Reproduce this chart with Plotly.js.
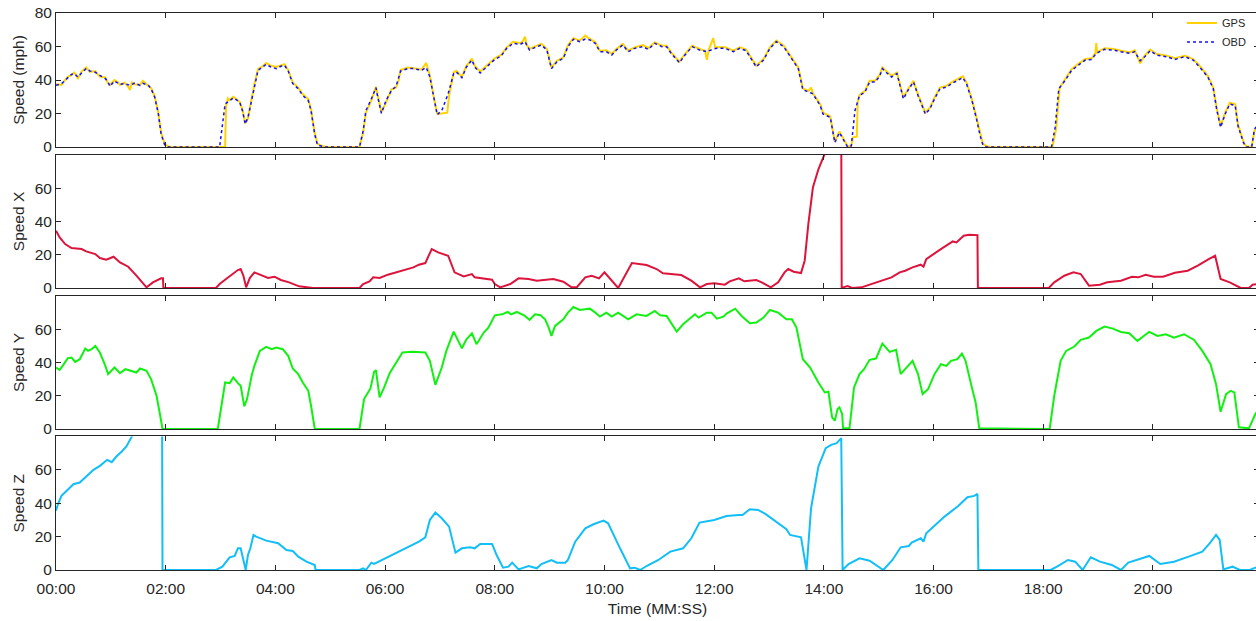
<!DOCTYPE html>
<html>
<head>
<meta charset="utf-8">
<script src="https://cdn.plot.ly/plotly-3.0.1.min.js"></script>
<style>
html,body{margin:0;padding:0;background:#fff;overflow:hidden;}
#chart{width:1262px;height:621px;}
</style>
</head>
<body>
<div id="chart"></div>
<script>
// time axis tick positions (seconds) and their labels
const tickSeconds = [0,120,240,360,480,600,720,840,960,1080,1200];
const tickLabels = ["00:00","02:00","04:00","06:00","08:00","10:00","12:00","14:00","16:00","18:00","20:00"];

// [time (s), speed] pairs
const gpsPts = [[0,37.5],[6,37.0],[12,41.5],[17,43.0],[20,44.5],[24,41.0],[28,45.0],[33,47.5],[37,45.0],[43,45.2],[48,42.0],[54,41.5],[57,38.0],[59,37.0],[64,40.0],[68,38.5],[70,37.0],[75,38.5],[79,36.0],[81,34.0],[83,38.5],[86,37.5],[92,37.0],[95,39.5],[101,36.5],[104,35.2],[108,30.2],[112,20.5],[115,8.5],[119,1.8],[123,0.3],[126,0],
[185,0],[186,24.5],[188,29.0],[190,28.0],[194,30.0],[197,28.8],[201,27.0],[204,22.2],[207,14.2],[210,17.0],[214,28.5],[217,37.5],[221,46.5],[226,48.2],[230,50.2],[235,48.5],[241,47.8],[246,49.0],[250,49.5],[254,46.0],[259,38.5],[265,35.5],[270,31.5],[276,28.5],[279,22.5],[283,8.5],[286,2.0],[290,0.8],[296,0],
[332,0],[336,8.5],[339,20.5],[345,27.8],[350,36.0],[352,30.5],[356,20.8],[361,26.5],[367,34.5],[372,35.5],[375,40.0],[377,46.0],[385,47.5],[391,47.0],[400,46.2],[405,50.2],[409,42.5],[413,30.5],[417,20.0],[420,19.8],[428,20.5],[430,30.5],[435,44.5],[438,45.5],[444,42.0],[449,48.5],[455,52.8],[458,48.5],[464,45.0],[471,48.5],[480,53.0],[487,55.0],[493,59.5],[500,62.8],[508,62.0],[511,63.5],[513,65.8],[515,61.0],[518,58.5],[526,60.5],[531,61.5],[537,58.5],[542,47.5],[548,51.5],[555,53.5],[560,60.8],[566,65.0],[573,63.5],[579,66.5],[584,64.5],[590,62.5],[595,57.5],[602,57.8],[608,55.5],[613,58.5],[620,61.5],[626,57.5],[633,59.5],[642,60.8],[648,59.0],[655,62.5],[663,60.5],[668,60.5],[673,56.5],[682,51.0],[688,55.5],[696,60.5],[704,58.5],[710,57.5],[712,52.0],[714,58.0],[719,65.0],[721,59.5],[732,59.5],[741,57.5],[748,59.5],[755,58.2],[766,48.5],[774,52.5],[781,59.5],[788,63.5],[796,60.5],[803,54.5],[812,47.5],[817,35.0],[823,33.5],[826,35.5],[828,32.0],[836,25.5],[839,20.5],[847,18.2],[852,3.2],[857,9.2],[861,5.2],[866,0.5],[870,0.8],[872,5.8],[876,6.2],[877,26.5],[879,31.0],[885,33.5],[890,39.5],[896,39.5],[901,43.0],[904,47.5],[909,45.0],[914,42.5],[920,44.5],[927,29.5],[932,34.5],[938,39.5],[943,31.5],[951,20.5],[956,23.5],[961,29.5],[967,35.5],[974,36.5],[981,39.0],[987,40.5],[992,42.2],[996,38.5],[1002,28.5],[1007,17.5],[1011,7.5],[1014,2.0],[1018,0.5],[1022,0],
[1090,0],[1094,10.5],[1098,35.5],[1104,40.5],[1111,46.5],[1118,49.5],[1126,52.5],[1133,53.0],[1137,56.0],[1138,62.0],[1139,56.5],[1147,59.0],[1157,58.5],[1165,57.5],[1175,56.5],[1180,57.8],[1184,52.0],[1186,50.0],[1191,54.5],[1197,58.2],[1204,55.5],[1215,54.5],[1224,53.0],[1235,54.5],[1244,52.5],[1251,48.5],[1260,42.5],[1266,35.5],[1270,22.5],[1274,12.5],[1279,20.5],[1284,26.5],[1290,25.5],[1293,13.5],[1299,3.2],[1302,0.5],[1308,0],[1311,9.5],[1316,14.5]];

const obdPts = [[0,36.8],[6,37.8],[12,40.8],[17,43.4],[20,43.8],[24,41.8],[28,44.2],[33,46.8],[37,45.4],[43,44.6],[48,42.8],[54,40.8],[57,38.8],[59,36.2],[64,39.4],[70,37.4],[75,37.8],[81,36.8],[86,38.2],[92,36.8],[95,38.0],[101,36.8],[104,34.8],[108,29.7],[112,19.7],[115,7.6],[119,1.2],[123,0],
[179,0],[185,25.7],[190,27.7],[194,29.3],[197,28.3],[201,26.7],[204,21.7],[207,13.7],[210,17.7],[214,27.7],[217,36.8],[221,45.8],[226,47.8],[230,49.4],[235,47.8],[241,46.8],[246,48.2],[250,48.8],[254,45.4],[259,37.8],[265,34.8],[270,30.8],[276,27.7],[279,21.7],[283,7.6],[286,1.2],[294,0],
[332,0],[336,9.6],[339,21.7],[345,28.7],[350,35.4],[352,29.7],[356,20.1],[361,27.7],[367,33.8],[372,36.2],[377,45.4],[385,46.8],[391,46.8],[400,45.8],[405,47.5],[409,41.8],[413,29.7],[417,19.3],[422,21.7],[429,31.8],[435,43.8],[438,44.8],[444,41.4],[449,47.8],[455,51.9],[458,47.8],[464,44.2],[471,47.8],[480,52.3],[487,54.3],[493,58.9],[500,61.9],[508,61.3],[513,62.9],[518,57.9],[526,59.9],[531,60.9],[537,57.9],[542,46.8],[548,50.9],[555,52.9],[560,59.9],[566,64.3],[573,62.9],[579,64.5],[584,63.9],[590,61.9],[595,56.9],[602,56.9],[608,54.9],[613,57.9],[620,60.9],[626,56.9],[633,58.9],[642,59.9],[648,58.3],[655,61.9],[663,59.9],[668,59.9],[673,55.9],[682,50.3],[688,54.9],[696,59.9],[704,57.9],[712,56.9],[719,58.5],[723,58.9],[732,58.9],[741,56.9],[748,58.9],[755,57.5],[766,47.8],[774,51.9],[781,58.9],[788,62.9],[796,59.9],[803,53.9],[812,46.8],[817,34.2],[823,32.8],[828,31.8],[836,24.7],[839,19.7],[847,17.7],[852,2.6],[857,8.6],[861,4.6],[866,0],[870,0.6],[874,21.7],[879,30.8],[885,32.8],[890,38.8],[896,38.8],[901,42.2],[904,46.8],[909,44.2],[914,41.8],[920,43.8],[927,28.7],[932,33.8],[938,38.8],[943,30.8],[951,19.7],[956,22.7],[961,28.7],[967,34.8],[974,35.8],[981,38.2],[987,39.8],[992,41.4],[996,37.8],[1002,27.7],[1007,16.7],[1011,6.6],[1014,1.2],[1018,0],
[1089,0],[1093,11.7],[1097,34.8],[1104,39.8],[1111,45.8],[1118,48.8],[1126,51.9],[1133,52.3],[1138,55.9],[1147,58.3],[1157,57.9],[1165,56.9],[1175,55.9],[1180,56.9],[1186,51.5],[1191,53.9],[1197,57.5],[1204,54.9],[1215,53.9],[1224,52.3],[1235,53.9],[1244,51.9],[1251,47.8],[1260,41.8],[1266,34.8],[1270,21.7],[1274,11.7],[1279,19.7],[1284,25.7],[1290,24.7],[1293,12.7],[1299,2.6],[1302,0],[1308,0],[1311,10.7],[1316,14]];

const speedXPts = [[0,34.4],[4,30.4],[10,26.4],[17,24],[28,23.4],[33,22],[43,20.4],[48,18],[55,17],[63,18.8],[70,15.4],[79,12.8],[88,7.4],[99,0.4],[106,3.4],[115,5.8],[117,5.8],[117.5,0],[175,0],[179,2.4],[186,5.4],[194,8.8],[199,10.8],[202,11.4],[205,7.4],[208,0.4],[212,6],[217,9.4],[223,8],[232,6],[239,6.8],[246,4.8],[255,3.4],[260,2.4],[266,1],[281,0],[332,0],[336,2.4],[343,4],[347,6.4],[354,6],[363,8],[372,9.4],[383,11.4],[391,12.4],[397,14],[404,15],[411,23.4],[418,21.4],[429,19.4],[436,9.4],[446,7],[455,8.4],[458,6.4],[467,5.8],[477,5],[480,2.4],[486,0.4],[497,2.4],[506,5.8],[517,5.4],[526,4.4],[544,5.4],[555,3.8],[564,0.4],[570,0.6],[579,6.4],[586,7.4],[594,5.8],[600,9.4],[615,0],[630,15],[646,13.8],[657,11.4],[664,8.8],[684,7.8],[695,4.4],[704.5,0.4],[712,2.4],[720,2.8],[731.6,2],[737,4],[747,5.8],[753,4],[766,4.8],[772,3.4],[782,0.4],[790,3.4],[797,9.4],[801,11.4],[807,9.8],[815,9],[819,16.4],[823,38.4],[828,60.4],[834,71.4],[840,79.4],[845,86],[852,92],[859,95],[859.5,0],[861,0.4],[866,1.2],[871,0],[881,0.4],[898,3.4],[914,6.4],[923,9.4],[929,10.4],[937,12.4],[946,14],[949,12.8],[952,17.4],[968,23.4],[981,28],[985,27.4],[993,31.4],[999,32],[1008,31.8],[1008.5,0],[1086,0],[1092,3.4],[1103,7.4],[1113,9.4],[1121,8.4],[1130,1.4],[1142,2],[1150,3.4],[1165,4.4],[1177,6.8],[1184,6.4],[1192,8],[1201,6.8],[1211,6.8],[1224,9.2],[1238,10.4],[1249,13.4],[1261,17.4],[1268,19.4],[1274,5.4],[1284,3.4],[1296,0],[1305,0],[1309,2],[1316,2.5]];

const speedYPts = [[0,37],[4,35.6],[8,38.6],[13,42.6],[17,43],[21,40.4],[26,42],[32,48.4],[35,47],[39,48],[43,50],[48,46],[54,38],[57,33],[64,37],[70,33.6],[76,36],[83,35],[88,34],[92,36.4],[99,35],[104,30],[110,20],[114,8],[116.5,0],[177,0],[181,15],[185,28],[190,27.6],[194,31],[199,27.6],[202,26],[206,13.6],[209,18],[214,32],[217,38],[223,47],[230,49.4],[236,48],[241,49],[248,48],[254,44],[259,36.4],[265,33],[270,28],[276,23],[279,14],[283,0.4],[284,0],[332,0],[337,18],[344,24.4],[348,34.4],[350,35.4],[354,19],[359,25],[365,33.6],[372,40],[379,46],[390,46.4],[398,46],[404,46],[409,41],[415,26.6],[422,37],[427,47],[435,58.6],[438,55],[444,48.6],[449,54],[455,57.6],[460,51],[468,58],[473,61],[480,68.4],[488,69],[494,70.4],[498,69],[504,70.4],[513,68],[518,65.6],[524,69],[530,68.4],[535,66],[539,61],[542,56],[546,62],[555,66],[560,70],[566,73.4],[573,71.6],[579,72],[584,72.4],[590,70],[595,67.6],[602,70],[608,67.6],[615,70],[626,66],[635,69],[646,68],[655,71],[661,68.4],[668,68],[673,64],[679,58.6],[686,63],[694,67],[699,69],[703,67],[712,70],[717,70],[723,66.4],[730,67.6],[734,69.6],[743,72.4],[750,68],[759,63.6],[766,64],[774,67],[781,71.6],[790,70],[799,66],[805,66],[810,61],[817,42],[825,37],[834,28],[841,22],[845,22.4],[849,7],[852,5],[855,12],[857,13],[860,9],[861,0.4],[868,0.4],[873,25],[879,33],[884,36],[890,41.6],[897,42.4],[904,51.4],[912,46.4],[919,47.6],[924,33],[930,37],[937,41],[943,33],[948,21],[954,24],[961,33],[968,39],[974,38],[979,41],[986,42],[991,45.4],[995,41],[1001,27],[1006,16],[1010,0.4],[1087,0],[1092,20],[1099,41],[1105,47],[1114,49.6],[1121,53.6],[1130,55],[1138,59],[1147,61.6],[1156,60.4],[1165,58.4],[1174,57.6],[1183,53],[1191,56.4],[1196,58.4],[1205,56],[1214,57],[1223,55],[1234,57],[1245,53.6],[1254,47],[1263,39],[1269,27],[1274,10.4],[1280,21],[1285,23],[1289,22],[1294,1],[1305,0.4],[1312,9],[1316,12]];

const speedZPts = [[0,35.6],[2.5,40],[6,44.4],[12,47.6],[19,51.4],[26,52.4],[33,56],[41,60],[48,62.4],[56,66],[61,64.6],[66,68],[72,71],[77,74],[84,81],[100,90],[116,100],[116.5,0],[175,0],[182,2],[190,7.6],[195.5,8.4],[199,13],[202,13],[205,6],[207.5,0],[210,9],[212.6,13],[216,21],[219,20],[230,17.6],[243,16],[252,12],[259,11.4],[265,8],[274,5],[283,3],[284,0],[332,0],[336,1],[339,0],[345,4.4],[348,3.6],[357,6],[368,9],[379,12],[390,15],[397,17],[404,19.6],[409,30],[415,34.4],[422,31],[430,26],[437,10.4],[444,13],[453,13.6],[458,13],[464,15.6],[477,15.6],[482,9],[489,1.4],[495,2],[499,4.4],[506,0.4],[517,2.4],[526,1],[531,3.6],[542,6],[548,4.4],[557,4.4],[560,6],[568,17],[579,25],[588,27.4],[599,29.6],[604,28],[617,13],[628,1],[633,1.4],[639,0],[646,2.4],[659,6],[672,11],[686,13],[695,19],[704,28.4],[720,30],[733.5,32.4],[747,33],[751,33],[759,36.4],[768,36],[776,33.6],[788,29],[799,24.4],[803,21],[815,19.6],[821,0],[826,37],[834,62],[842,73],[848,75],[854,76],[859,79],[860.5,0],[867,3.6],[879,7],[890,5.6],[905,0],[915,6],[924,13.6],[933,14.4],[936,16.4],[946,19],[949,17],[952,22],[972,32],[987,38.4],[997,43.6],[1004.5,44.4],[1008,45.6],[1009,0],[1088,0],[1095,2],[1107,6],[1115,5],[1123,0],[1132,7.6],[1142,5],[1155,3],[1165,0],[1173,4.4],[1185,6.4],[1196,8.4],[1208,3.6],[1223,5],[1239,8],[1254,11],[1262,16],[1269,21],[1273,18],[1277,0.4],[1287,2],[1295,0],[1306,0],[1310,1],[1316,2]];

const yTicksTop = [0,20,40,60,80];
const yTicksLow = [0,20,40,60];

const xs = p => p.map(d => d[0]);
const ys = p => p.map(d => d[1]);

const traces = [
  {x: xs(gpsPts), y: ys(gpsPts), name: 'GPS', type: 'scatter', mode: 'lines', xaxis: 'x', yaxis: 'y',
   line: {color: '#FFD200', width: 2}},
  {x: xs(obdPts), y: ys(obdPts), name: 'OBD', type: 'scatter', mode: 'lines', xaxis: 'x', yaxis: 'y',
   line: {color: '#1010FF', width: 1.5, dash: 'dot'}},
  {x: xs(speedXPts), y: ys(speedXPts), name: 'Speed X', type: 'scatter', mode: 'lines', xaxis: 'x2', yaxis: 'y2',
   line: {color: '#DC143C', width: 2}, showlegend: false},
  {x: xs(speedYPts), y: ys(speedYPts), name: 'Speed Y', type: 'scatter', mode: 'lines', xaxis: 'x3', yaxis: 'y3',
   line: {color: '#12F012', width: 2}, showlegend: false},
  {x: xs(speedZPts), y: ys(speedZPts), name: 'Speed Z', type: 'scatter', mode: 'lines', xaxis: 'x4', yaxis: 'y4',
   line: {color: '#12BEF8', width: 2}, showlegend: false}
];

const axCol = '#262626';
const fam = 'Liberation Sans, Arial, sans-serif';
function xAxis(anchor, labels) {
  return {
    anchor: anchor, domain: [0, 1], range: [0, 1316],
    tickmode: 'array', tickvals: tickSeconds, ticktext: tickLabels,
    showticklabels: labels, ticks: 'inside', ticklen: 5, tickwidth: 1, tickcolor: axCol,
    showline: true, linecolor: axCol, linewidth: 1, mirror: 'ticks',
    showgrid: false, zeroline: false,
    tickfont: {size: 15.5, color: axCol, family: fam}
  };
}
function yAxis(anchor, dom, ticks, title) {
  return {
    anchor: anchor, domain: dom, range: [0, 80],
    tickmode: 'array', tickvals: ticks,
    ticks: 'inside', ticklen: 5, tickwidth: 1, tickcolor: axCol,
    showline: true, linecolor: axCol, linewidth: 1, mirror: 'ticks',
    showgrid: false, zeroline: false,
    tickfont: {size: 15.5, color: axCol, family: fam},
    title: {text: title, standoff: 6, font: {size: 15.5, color: axCol, family: fam}}
  };
}

const xa4 = xAxis('y4', true);
xa4.ticklabelstandoff = 4;
xa4.title = {text: 'Time (MM:SS)', standoff: 7, font: {size: 15.5, color: axCol, family: fam}};

const layout = {
  width: 1262, height: 621,
  margin: {l: 56, r: 3, t: 13, b: 51, autoexpand: false},
  paper_bgcolor: '#ffffff', plot_bgcolor: '#ffffff',
  font: {family: fam, color: axCol, size: 15.5},
  showlegend: true,
  legend: {x: 0.936, xanchor: 'left', y: 1.008, yanchor: 'top', bgcolor: 'rgba(0,0,0,0)',
           font: {size: 11, color: axCol}, tracegroupgap: 0, itemwidth: 30},
  xaxis: xAxis('y', false),
  xaxis2: xAxis('y2', false),
  xaxis3: xAxis('y3', false),
  xaxis4: xa4,
  yaxis: yAxis('x', [0.7594, 1], yTicksTop, 'Speed (mph)'),
  yaxis2: yAxis('x2', [0.5063, 0.7451], yTicksLow, 'Speed X'),
  yaxis3: yAxis('x3', [0.2531, 0.4919], yTicksLow, 'Speed Y'),
  yaxis4: yAxis('x4', [0, 0.2397], yTicksLow, 'Speed Z')
};

Plotly.newPlot('chart', traces, layout, {staticPlot: true, displayModeBar: false});
</script>
</body>
</html>
